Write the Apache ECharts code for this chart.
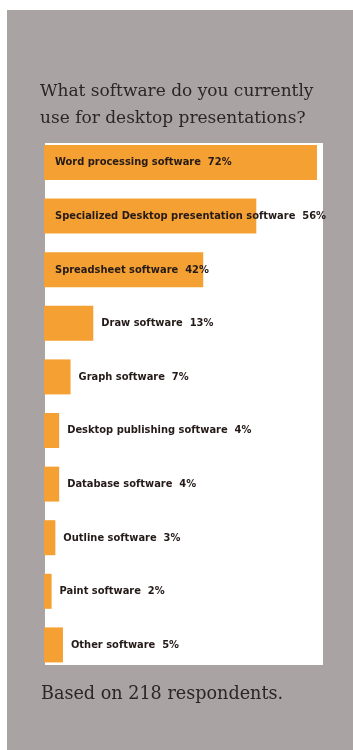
<!DOCTYPE html>
<html>
<head>
<meta charset="utf-8">
<script src="https://cdn.jsdelivr.net/npm/echarts@6/dist/echarts.min.js"></script>
<style>
html,body{margin:0;padding:0;background:#fff;}
#chart{width:353px;height:750px;}
</style>
</head>
<body>
<div id="chart"></div>
<script>
const titleLines = ['What software do you currently', 'use for desktop presentations?'];
const footnote = 'Based on 218 respondents.';
const categories = [
  'Word processing software',
  'Specialized Desktop presentation software',
  'Spreadsheet software',
  'Draw software',
  'Graph software',
  'Desktop publishing software',
  'Database software',
  'Outline software',
  'Paint software',
  'Other software'
];
const values = [72, 56, 42, 13, 7, 4, 4, 3, 2, 5];
const insideCount = 3;

const chart = echarts.init(document.getElementById('chart'));
const labelFont = "'DejaVu Sans Condensed', 'DejaVu Sans', sans-serif";
const serif = "'DejaVu Serif', serif";
const barData = values.map((v, i) => ({
  value: v,
  label: i < insideCount
    ? { position: 'insideLeft', distance: 11 }
    : { position: 'right', distance: 8 }
}));

chart.setOption({
  backgroundColor: '#ffffff',
  animation: false,
  graphic: [
    { type: 'rect', z: -10, shape: { x: 7, y: 10, width: 346, height: 740 }, style: { fill: '#aaa3a3' } },
    { type: 'rect', z: -9, shape: { x: 45, y: 143, width: 278, height: 522 }, style: { fill: '#ffffff' } }
  ],
  title: [
    {
      text: titleLines.join('\n'),
      left: 35, top: 73,
      textStyle: { fontFamily: serif, fontWeight: 'normal', fontSize: 17, lineHeight: 27, color: '#2b2626' }
    },
    {
      text: footnote,
      left: 36, top: 677,
      textStyle: { fontFamily: serif, fontWeight: 'normal', fontSize: 17.6, lineHeight: 24, color: '#2b2626' }
    }
  ],
  grid: { left: 44, top: 135.7, width: 303.3, height: 536, containLabel: false },
  xAxis: { type: 'value', min: 0, max: 80, show: false },
  yAxis: { type: 'category', data: categories, inverse: true, show: false },
  series: [{
    type: 'bar',
    data: barData,
    barWidth: 35,
    itemStyle: { color: '#f5a033' },
    label: {
      show: true,
      formatter: p => p.name + '  ' + p.value + '%',
      fontFamily: labelFont,
      fontWeight: 'bold',
      fontSize: 11,
      color: '#241a18'
    }
  }]
});
</script>
</body>
</html>
